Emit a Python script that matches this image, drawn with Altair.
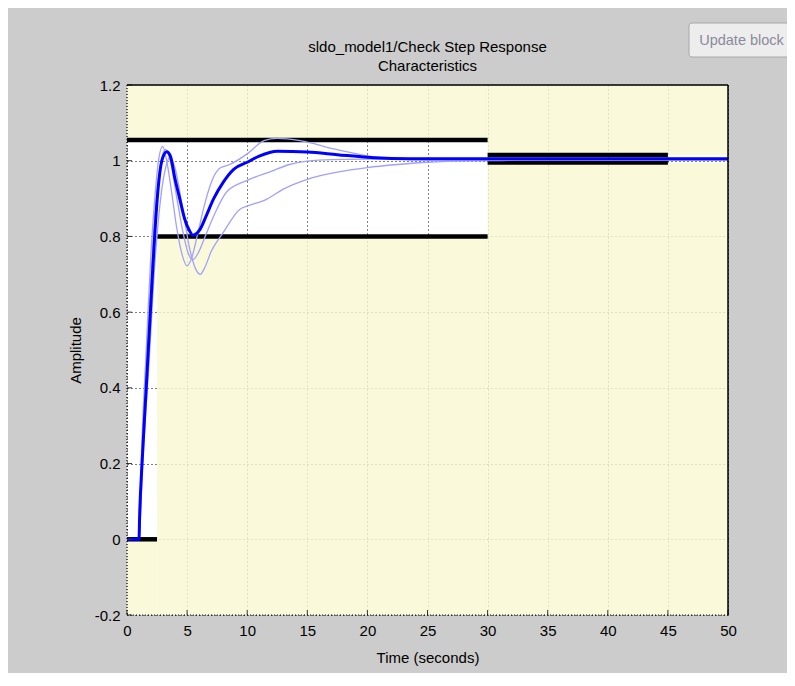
import altair as alt
import pandas as pd

# ---------------- text ----------------
TITLE_LINES = ["sldo_model1/Check Step Response", "Characteristics"]
X_TITLE = "Time (seconds)"
Y_TITLE = "Amplitude"
BUTTON_LABEL = ["Update block"]

# ---------------- axes ----------------
x_ticks = [0, 5, 10, 15, 20, 25, 30, 35, 40, 45, 50]
y_ticks = [-0.2, 0, 0.2, 0.4, 0.6, 0.8, 1, 1.2]
x_domain = [0, 50]
y_domain = [-0.2, 1.2]

# ---------------- nominal response (thick) ----------------
nominal_t = [0, 1.0, 1.05, 1.25, 1.6, 2.1, 2.3, 2.6, 2.9, 3.3, 3.6, 4.0, 4.4, 4.8, 5.2, 5.47,
             6.1, 6.6, 7.2, 8.0, 8.9, 10, 11, 12.5, 15, 17.5, 20, 22, 25, 50]
nominal_y = [0, 0, 0.06, 0.2, 0.4, 0.69, 0.8, 0.93, 1.0, 1.024, 1.013, 0.951, 0.898, 0.846, 0.815, 0.803,
             0.82, 0.855, 0.899, 0.943, 0.978, 0.996, 1.012, 1.025, 1.023, 1.016, 1.009, 1.006, 1.005, 1.005]

# ---------------- uncertain variants (thin) ----------------
var_a_t = [0, 1.0, 1.2, 1.6, 2.0, 2.33, 2.6, 2.97, 3.3, 3.7, 4.1, 4.6, 5.0, 5.4, 5.9, 6.5, 7.1, 7.8,
           8.4, 10, 11.4, 12.5, 14.4, 17.2, 20, 22, 25, 50]
var_a_y = [0, 0, 0.22, 0.5, 0.76, 0.907, 0.996, 1.038, 1.0, 0.92, 0.83, 0.75, 0.722, 0.745, 0.81, 0.89, 0.95, 0.982,
           0.988, 1.018, 1.053, 1.059, 1.053, 1.031, 1.013, 1.006, 1.002, 1.002]

var_b_t = [0, 1.0, 1.25, 1.7, 2.2, 2.6, 3.2, 3.6, 4.1, 4.6, 5.1, 5.5, 5.9, 6.5, 7.3, 8.3, 10, 12,
           13.5, 15, 17, 20, 25, 50]
var_b_y = [0, 0, 0.2, 0.5, 0.8, 0.95, 1.03, 1.0, 0.91, 0.82, 0.755, 0.739, 0.755, 0.80, 0.86, 0.918, 0.948, 0.972,
           0.99, 0.999, 1.003, 1.004, 1.003, 1.002]

var_c_t = [0, 1.0, 1.3, 1.8, 2.3, 2.8, 3.2, 3.6, 4.0, 4.6, 5.2, 5.7, 6.1, 6.5, 7.0, 8.0, 9.4, 10, 11.6,
           13, 15, 17.5, 20, 22.5, 25, 30, 35, 50]
var_c_y = [0, 0, 0.2, 0.45, 0.72, 0.9, 0.98, 1.01, 0.98, 0.88, 0.77, 0.715, 0.70, 0.72, 0.76, 0.81, 0.872, 0.88, 0.898,
           0.925, 0.951, 0.97, 0.982, 0.99, 0.996, 1.0, 1.002, 1.002]

# ---------------- step response bounds ----------------
upper_start = [0, 30]
upper_end = [30, 45]
upper_level = [1.055, 1.015]
lower_start = [0, 2.5, 30]
lower_end = [2.5, 30, 45]
lower_level = [0, 0.8, 0.995]

# ---------------- build tables ----------------
def curve_rows(name, ts, ys):
    return [{"series": name, "i": i, "t": t, "y": y} for i, (t, y) in enumerate(zip(ts, ys))]

thin_df = pd.DataFrame(curve_rows("a", var_a_t, var_a_y)
                       + curve_rows("b", var_b_t, var_b_y)
                       + curve_rows("c", var_c_t, var_c_y))
nom_df = pd.DataFrame(curve_rows("nominal", nominal_t, nominal_y))

seg_rows = []
patch_rows = []
for k, (s, e, lv) in enumerate(zip(upper_start, upper_end, upper_level)):
    seg_rows.append({"s": s, "e": e, "lv": lv})
    e_patch = x_domain[1] if k == len(upper_start) - 1 else e
    patch_rows.append({"x0": s, "x1": e_patch, "y0": lv, "y1": y_domain[1]})
for k, (s, e, lv) in enumerate(zip(lower_start, lower_end, lower_level)):
    seg_rows.append({"s": s, "e": e, "lv": lv})
    e_patch = x_domain[1] if k == len(lower_start) - 1 else e
    patch_rows.append({"x0": s, "x1": e_patch, "y0": y_domain[0], "y1": lv})
seg_df = pd.DataFrame(seg_rows)
patch_df = pd.DataFrame(patch_rows)

W, H = 601, 530
FONT = "Liberation Sans"

xs = alt.Scale(domain=x_domain, nice=False, zero=False)
ys = alt.Scale(domain=y_domain, nice=False, zero=False)

x_axis = alt.Axis(values=x_ticks, title=X_TITLE, grid=True, gridColor="#000000", gridDash=[1, 3],
                  gridOpacity=1, domain=False, ticks=True, tickSize=0, tickWidth=0,
                  labelPadding=8, labelFlush=False, labelExpr="'' + datum.value",
                  titleX=W / 2, titleY=42, titleBaseline="middle", titleAlign="center")
y_axis = alt.Axis(values=y_ticks, title=Y_TITLE, grid=True, gridColor="#000000", gridDash=[1, 3],
                  gridOpacity=1, domain=False, ticks=True, tickSize=0, tickWidth=0,
                  labelPadding=7, labelFlush=False, labelExpr="'' + datum.value",
                  titleX=-52, titleY=H / 2, titleAngle=270, titleBaseline="middle", titleAlign="center")


def X(field):
    return alt.X(field, scale=xs, axis=x_axis, title=X_TITLE)


def Y(field):
    return alt.Y(field, scale=ys, axis=y_axis, title=Y_TITLE)


patches = alt.Chart(patch_df).mark_rect(color="#f9f9d2", opacity=0.8).encode(
    x=X("x0:Q"), x2="x1:Q", y=Y("y0:Q"), y2="y1:Q",
)

bounds = alt.Chart(seg_df).mark_rule(color="black", strokeWidth=4.5, strokeCap="butt").encode(
    x=X("s:Q"), x2="e:Q", y=Y("lv:Q"),
)

thin = alt.Chart(thin_df).mark_line(color="#a0a0ff", strokeWidth=1.3, interpolate="monotone").encode(
    x=X("t:Q"), y=Y("y:Q"), detail="series:N", order="i:Q",
)

nominal = alt.Chart(nom_df).mark_line(color="#0000ff", strokeWidth=3, interpolate="monotone").encode(
    x=X("t:Q"), y=Y("y:Q"), order="i:Q",
)

xt_df = pd.DataFrame({"v": x_ticks})
yt_df = pd.DataFrame({"v": y_ticks})
x_tick_marks = alt.Chart(xt_df).mark_rule(color="#333333", strokeWidth=1).encode(
    x=X("v:Q"), y=alt.value(H), y2=alt.value(H - 5))
y_tick_marks = alt.Chart(yt_df).mark_rule(color="#333333", strokeWidth=1).encode(
    y=Y("v:Q"), x=alt.value(0), x2=alt.value(5))

one = pd.DataFrame({"k": [0]})
left_border = alt.Chart(one).mark_rule(color="#000000", strokeWidth=1.2, strokeDash=[1, 2]).encode(
    x=alt.value(0), y=alt.value(0), y2=alt.value(H))
bottom_border = alt.Chart(one).mark_rule(color="#000000", strokeWidth=1.2, strokeDash=[1, 2]).encode(
    x=alt.value(0), x2=alt.value(W), y=alt.value(H))
top_border = alt.Chart(one).mark_rule(color="#000000", strokeWidth=1.5).encode(
    x=alt.value(0), x2=alt.value(W), y=alt.value(0))
right_border = alt.Chart(one).mark_rule(color="#000000", strokeWidth=1.5).encode(
    x=alt.value(W), y=alt.value(0), y2=alt.value(H))

title_df1 = pd.DataFrame({"line": [TITLE_LINES[0]]})
title_df2 = pd.DataFrame({"line": [TITLE_LINES[1]]})
title1 = alt.Chart(title_df1).mark_text(font=FONT, fontSize=15, color="#000000", align="center",
                                        baseline="middle").encode(
    x=alt.value(W / 2), y=alt.value(-38), text="line:N")
title2 = alt.Chart(title_df2).mark_text(font=FONT, fontSize=15, color="#000000", align="center",
                                        baseline="middle").encode(
    x=alt.value(W / 2), y=alt.value(-19), text="line:N")

btn_df = pd.DataFrame({"label": BUTTON_LABEL})
button = alt.Chart(btn_df).mark_rect(fill="#ededed", stroke="#a8a8a8", strokeWidth=1, cornerRadius=3).encode(
    x=alt.value(562), x2=alt.value(668), y=alt.value(-62), y2=alt.value(-28))
button_text = alt.Chart(btn_df).mark_text(font=FONT, fontSize=14.5, color="#8a8a9c", align="center",
                                          baseline="middle").encode(
    x=alt.value(614.5), y=alt.value(-44), text="label:N")

chart = alt.layer(
    patches, bounds, thin, nominal, x_tick_marks, y_tick_marks,
    left_border, bottom_border, top_border, right_border, title1, title2, button, button_text,
).properties(
    width=W, height=H,
    autosize=alt.AutoSizeParams(type="none"),
    padding={"left": 119, "top": 77, "right": 59, "bottom": 58},
).configure(
    background="#cccccc",
    font=FONT,
).configure_view(
    fill="white", strokeWidth=0,
).configure_axis(
    labelFont=FONT, labelFontSize=15, labelColor="#000000",
    titleFont=FONT, titleFontSize=15, titleColor="#000000", titleFontWeight="normal",
)

chart.save("out.html", embed_options={"renderer": "svg", "actions": False})
